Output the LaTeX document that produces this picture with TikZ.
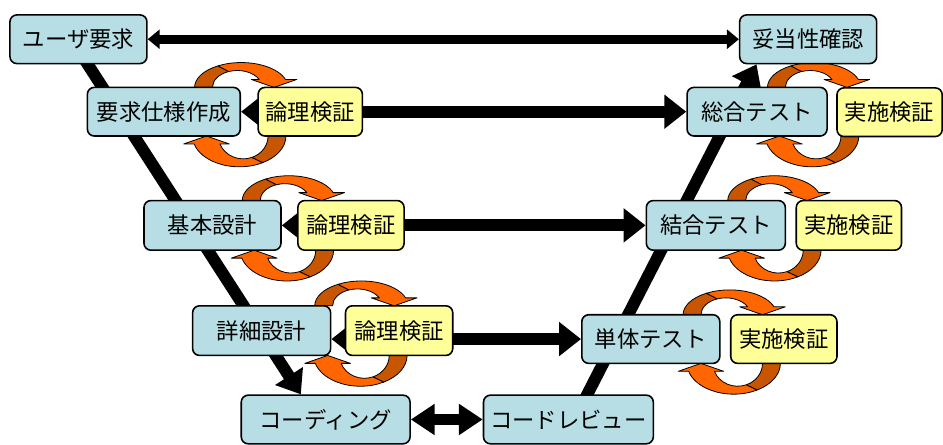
\documentclass[tikz,border=0pt]{standalone}
\usepackage{fontspec}
\setmainfont{Noto Sans CJK JP}
\usetikzlibrary{arrows.meta,calc}
\definecolor{boxblue}{RGB}{183,222,228}
\definecolor{boxyellow}{RGB}{255,255,153}
\definecolor{orlight}{RGB}{255,102,0}
\definecolor{ordark}{RGB}{200,85,0}
\pgfdeclarelayer{back}
\pgfdeclarelayer{bg}
\pgfsetlayers{back,bg,main}
\newcommand\orloop[4]{%
\begin{scope}[shift={(#1,#2)},rotate=#3]
\pgfmathsetmacro\LRo{#4}
\pgfmathsetmacro\LRh{#4-8}
\pgfmathsetmacro\LAo{360-asin(8/\LRo)}
\pgfmathsetmacro\LAh{360-asin(8/\LRh)}
\path[loopedge,fill=ordark] (-47,0) arc[start angle=180,end angle=240,x radius=47,y radius=\LRo]
 -- ({-4+25*cos(250)},{\LRh*sin(250)})
 arc[start angle=250,end angle=180,x radius=25,y radius=\LRh] -- cycle;
\path[loopedge,fill=orlight] ({47*cos(240)},{\LRo*sin(240)})
 arc[start angle=240,end angle=\LAo,x radius=47,y radius=\LRo]
 -- (56,-8) -- (33,0) -- (10,-8) -- ({-4+25*cos(\LAh)},-8)
 arc[start angle=\LAh,end angle=250,x radius=25,y radius=\LRh] -- cycle;
\end{scope}}
\tikzset{
 vbox/.style={draw=black,line width=1.6pt,rounded corners=7pt,fill=boxblue,
   minimum height=49pt,inner sep=0pt,font=\fontsize{22.5}{26}\selectfont},
 ybox/.style={vbox,fill=boxyellow},
 loopedge/.style={draw=black,line width=0.8pt,line join=round},
 bigarr/.style={line width=12pt,{Triangle[length=22pt,width=33pt]}-{Triangle[length=22pt,width=33pt]}},
 toparr/.style={line width=9.5pt,{Triangle[length=12pt,width=19pt]}-{Triangle[length=12pt,width=19pt]}},
 botarr/.style={line width=11pt,{Triangle[length=24pt,width=30pt]}-{Triangle[length=24pt,width=30pt]}},
 vline/.style={line width=12pt,-{Triangle[length=22pt,width=32pt]}}
}
\begin{document}
\begin{tikzpicture}[x=1pt,y=-1pt]
\begin{pgfonlayer}{back}
\path[use as bounding box,fill=white] (0,0) rectangle (943,446);
\end{pgfonlayer}
% boxes
\node[vbox,minimum width=138pt] (user) at (79,39.5) {ユーザ要求};
\node[vbox,minimum width=154pt] (req) at (165,112.5) {要求仕様作成};
\node[ybox,minimum width=105pt] (ron1) at (312.5,112.5) {論理検証};
\node[vbox,minimum width=138pt] (datou) at (814,39.5) {妥当性確認};
\node[vbox,minimum width=141pt] (sougou) at (762.5,112.5) {総合テスト};
\node[ybox,minimum width=106pt] (jis1) at (896,113) {実施検証};
\node[vbox,minimum width=138pt,minimum height=50pt] (kihon) at (214,227) {基本設計};
\node[ybox,minimum width=107pt,minimum height=50pt] (ron2) at (353.5,227) {論理検証};
\node[vbox,minimum width=140pt,minimum height=50pt] (ketsugou) at (721,227) {結合テスト};
\node[ybox,minimum width=106pt,minimum height=50pt] (jis2) at (855,227) {実施検証};
\node[vbox,minimum width=139pt,minimum height=50pt] (shousai) at (263.5,333) {詳細設計};
\node[ybox,minimum width=108pt,minimum height=50pt] (ron3) at (402,333) {論理検証};
\node[vbox,minimum width=139pt] (tantai) at (655.5,341.5) {単体テスト};
\node[ybox,minimum width=107pt] (jis3) at (789.5,341.5) {実施検証};
\node[vbox,minimum width=170pt] (coding) at (328,422.5) {コーディング};
\node[vbox,minimum width=171pt] (review) at (572.5,422.5) {コードレビュー};
\begin{pgfonlayer}{bg}
\coordinate (vl1) at (82,55);
\coordinate (vl2) at ($(coding.north)+(-25,0)$);
\coordinate (vr1) at (587,406);
\coordinate (vr2) at ($(datou.south)+(-52,0)$);
\draw[vline] (vl1) -- (vl2);
\draw[vline] (vr1) -- (vr2);
\draw[toparr] (user.east) -- (datou.west);
\draw[bigarr] (req.east) -- (sougou.west);
\draw[bigarr] (kihon.east) -- (ketsugou.west);
\draw[bigarr] (shousai.east |- tantai.west) -- (tantai.west);
\draw[botarr] (coding.east) -- (review.west);
% orange loops
\orloop{243}{88}{0}{25}
\orloop{241}{137}{180}{31}
\orloop{291}{202}{0}{25}
\orloop{289}{252}{180}{31}
\orloop{364}{308}{0}{25}
\orloop{363}{358}{180}{31}
\orloop{820}{88}{0}{25}
\orloop{818}{137}{180}{31}
\orloop{780}{202}{0}{25}
\orloop{780}{252}{180}{31}
\orloop{735}{317}{0}{25}
\orloop{739}{366}{180}{31}
\end{pgfonlayer}
\end{tikzpicture}
\end{document}
